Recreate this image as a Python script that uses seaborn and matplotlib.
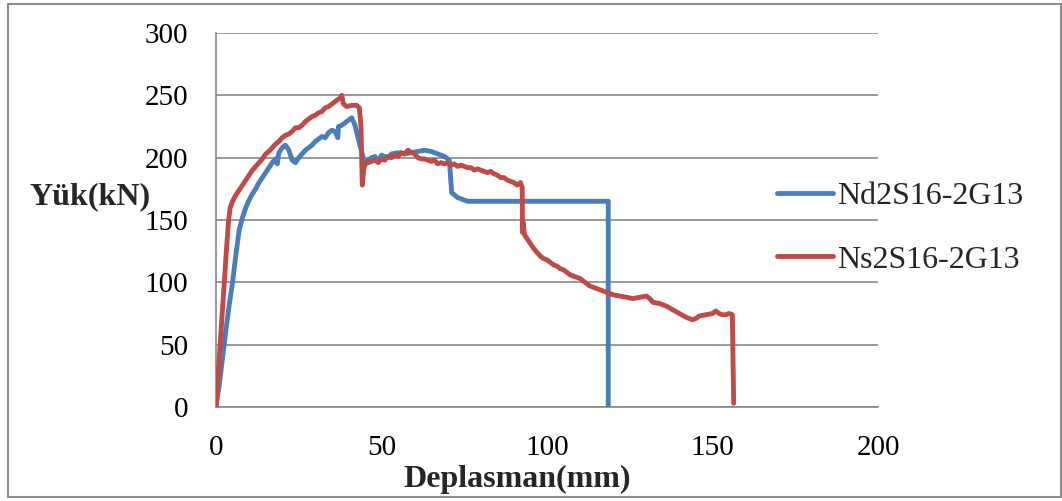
import matplotlib
matplotlib.use("Agg")
import matplotlib.pyplot as plt
import seaborn as sns
import pandas as pd
from matplotlib.lines import Line2D

# ---- data ----
nd_x = [0, 1, 2, 3, 4, 5, 6, 7, 8, 9, 10, 11, 12, 13, 14, 15, 16, 17, 18, 18.5, 19, 20, 21, 22, 23, 24,
        25, 26, 27, 28, 29, 30, 31, 32, 33, 34, 35, 36, 36.8, 37, 38, 39, 40, 41, 42, 43, 44, 44.8,
        46, 47, 48, 49, 50, 52, 53, 55, 57, 59, 61, 63, 65, 67, 69, 70.5, 71.2, 73, 76, 118.5, 118.5]
nd_y = [0, 18, 40, 62, 82, 100, 122, 142, 152, 160, 166, 171, 175, 180, 184, 188, 192, 196, 199, 195, 204, 208, 210, 206, 198, 196,
        200, 203, 206, 208, 210, 213, 215, 217, 216, 220, 222, 221, 216, 225, 226, 228, 230, 232, 226, 215, 205, 196,
        198, 200, 201, 197, 202, 200, 203, 204, 203, 204, 205, 206, 205, 203, 201, 198, 172, 168, 165, 165, 0]

ns_x = [0, 1, 2, 3, 3.8, 4.3, 5, 6, 7, 8, 9, 10, 11, 12, 13, 14, 15, 16, 17, 18, 19, 20, 21, 22, 23, 24,
        25, 26, 27, 28, 29, 30, 31, 32, 33, 34, 35, 36, 37, 37.5, 38, 38.5, 39.5, 41, 42.5, 43.3, 43.8, 44.2,
        44.6, 45, 46, 47, 48, 49, 50, 51, 52, 53, 54, 55, 56, 57, 58, 59, 60, 61, 62, 63, 64, 65, 66, 67, 68,
        69, 70, 71, 72, 73, 74, 75, 76, 77, 78, 79, 80, 81, 82, 83, 84, 85, 86, 87, 88, 89, 90, 91, 92, 92.5,
        92.6, 92.8, 93.2, 94, 95, 96, 97, 98, 99, 100, 101, 102, 103, 104, 105, 106, 107, 108, 109, 110, 111,
        112, 113, 114, 115, 116, 117, 118, 119, 120, 122, 124, 126, 128, 130, 131, 132, 134, 136, 138, 140,
        142, 144, 145, 146, 148, 150, 151, 152, 153, 154, 155, 156, 156.4]
ns_y = [0, 40, 80, 120, 150, 160, 165, 170, 174, 178, 182, 186, 190, 193, 196, 199, 203, 205, 208, 211, 213, 216, 218, 219, 221, 224,
        224, 226, 229, 231, 233, 234, 236, 237, 240, 241, 243, 245, 247, 248, 250, 243, 241, 242, 242, 240, 225, 178,
        190, 195, 196, 197, 198, 196, 199, 198, 201, 200, 202, 201, 204, 203, 206, 204, 203, 200, 199, 199, 198, 197, 198, 195, 196,
        195, 196, 194, 195, 193, 194, 193, 192, 192, 190, 191, 190, 189, 188, 189, 187, 186, 184, 184, 182, 181, 180, 178, 180, 176,
        140, 148, 138, 135, 131, 127, 124, 121, 119, 118, 116, 114, 113, 111, 110, 108, 106, 105, 104, 103, 101,
        99, 97, 96, 95, 94, 93, 92, 91, 90, 89, 88, 87, 88, 89, 87, 84, 83, 81, 78, 75,
        72, 70, 71, 73, 74, 75, 77, 75, 74, 74, 75, 74, 3]

series_names = ["Nd2S16-2G13", "Ns2S16-2G13"]
x_ticks = [0, 50, 100, 150, 200]
y_ticks = [0, 50, 100, 150, 200, 250, 300]

# ---- style ----
sns.set_style("white")
plt.rcParams['font.family'] = ['Liberation Serif', 'DejaVu Serif']

colors = ["#4A7EBB", "#BE4B48"]
grid_c = "#878787"
lw = 3.5

fig = plt.figure(figsize=(10.62, 5.01), dpi=100)
ax = fig.add_axes([216 / 1062, 1 - 407 / 501, (878 - 216) / 1062, (407 - 33) / 501])

df_nd = pd.DataFrame({"x": nd_x, "y": nd_y})
df_ns = pd.DataFrame({"x": ns_x, "y": ns_y})
sns.lineplot(data=df_nd, x="x", y="y", sort=False, estimator=None, ax=ax,
             color=colors[0], linewidth=lw, solid_joinstyle="round", solid_capstyle="round", zorder=3)
sns.lineplot(data=df_ns, x="x", y="y", sort=False, estimator=None, ax=ax,
             color=colors[1], linewidth=lw, solid_joinstyle="round", solid_capstyle="round", zorder=4)

ax.set_xlim(0, 200)
ax.set_ylim(0, 300)
ax.set_xticks(x_ticks)
ax.set_yticks(y_ticks)
ax.yaxis.grid(True, color=grid_c, linewidth=1.2)
ax.xaxis.grid(False)
for s in ["top", "right"]:
    ax.spines[s].set_visible(False)
for s in ["left", "bottom"]:
    ax.spines[s].set_color(grid_c)
    ax.spines[s].set_linewidth(1.2)
ax.tick_params(axis="both", which="major", direction="out", length=7, width=1.2,
               color=grid_c, labelsize=21, labelcolor="black")
ax.tick_params(axis="y", pad=13)
ax.tick_params(axis="x", pad=13)
ax.set_xlabel("")
ax.set_ylabel("")

fig.text(517 / 1062, 1 - 479 / 501, "Deplasman(mm)", ha="center", va="center",
         fontsize=23, fontweight="bold")
fig.text(30 / 1062, 1 - 197 / 501, "Yük(kN)", ha="left", va="center",
         fontsize=23, fontweight="bold")

handles = [Line2D([0], [0], color=colors[0], linewidth=lw, solid_capstyle="round"),
           Line2D([0], [0], color=colors[1], linewidth=lw, solid_capstyle="round")]
fig.legend(handles, series_names, loc="center left", bbox_to_anchor=(748 / 1062, 1 - 228 / 501),
           frameon=False, fontsize=23, handlelength=1.75, handletextpad=0.15, labelspacing=1.08)

# figure border
border = plt.Rectangle((8 / 1062, 4 / 501), (1061 - 8) / 1062, (497 - 4) / 501,
                       transform=fig.transFigure, fill=False, edgecolor="#8c8c8c", linewidth=1.5)
fig.patches.append(border)

fig.savefig("out.png", dpi=100)
